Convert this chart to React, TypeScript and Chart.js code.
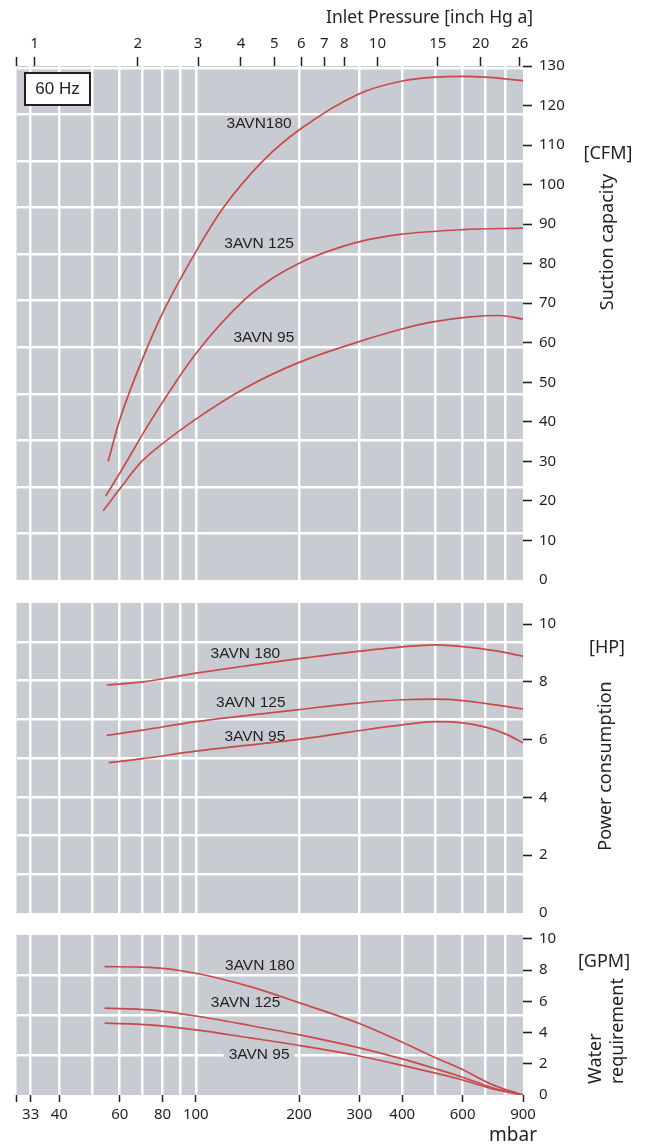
import React, { useEffect, useRef } from "react";
import { Chart, registerables } from "chart.js";

Chart.register(...registerables);

// ---------------- data ----------------
// inlet pressure axes
const mbarTicks = [30, 33, 40, 60, 80, 100, 200, 300, 400, 600, 900];
const mbarGrid = [33, 40, 50, 60, 70, 80, 90, 100, 200, 300, 400, 500, 600, 700, 800];
const inHgTicks = [1, 2, 3, 4, 5, 6, 7, 8, 10, 15, 20, 26];

// suction capacity [CFM]
const cap180Mbar = [55.5, 60, 70, 80, 100, 120, 157, 200, 300, 400, 500, 600, 700, 900];
const cap180Cfm = [30, 40.5, 56, 67.5, 83, 94, 106, 113.8, 123, 126.2, 127.2, 127.4, 127.2, 126.3];
const cap125Mbar = [54.6, 60, 74.2, 100, 140, 170, 201, 246, 301, 394, 600, 900];
const cap125Cfm = [21.2, 27, 40.5, 57.2, 71.2, 76.7, 80.2, 83.3, 85.6, 87.4, 88.6, 89.0];
const cap95Mbar = [53.7, 60, 68.7, 80.3, 99.3, 139, 201, 301, 394, 482, 630, 770, 900];
const cap95Cfm = [17.5, 23, 29.5, 34.6, 40.5, 48.5, 55.1, 60.35, 63.35, 65.15, 66.55, 66.9, 66.0];

// power consumption [HP]
const powMbar = [55, 70, 100, 140, 200, 280, 400, 500, 600, 750, 900];
const pow180Hp = [7.89, 8.0, 8.3, 8.55, 8.8, 9.02, 9.21, 9.28, 9.22, 9.07, 8.89];
const pow125Hp = [6.15, 6.33, 6.62, 6.83, 7.04, 7.24, 7.38, 7.4, 7.35, 7.2, 7.06];
const pow95Mbar = [55.7, 70, 100, 140, 200, 280, 400, 500, 600, 700, 800, 900];
const pow95Hp = [5.2, 5.34, 5.6, 5.8, 6.01, 6.26, 6.51, 6.62, 6.58, 6.43, 6.2, 5.89];

// water requirement [GPM]
const waterMbar = [54.2, 73.4, 100, 144, 201, 300, 400, 500, 600, 725, 900];
const water180Gpm = [8.22, 8.18, 7.8, 6.94, 5.9, 4.58, 3.38, 2.39, 1.64, 0.71, 0];
const water125Gpm = [5.56, 5.45, 5.06, 4.45, 3.85, 3.02, 2.31, 1.68, 1.14, 0.5, 0];
const water95Gpm = [4.6, 4.49, 4.17, 3.66, 3.17, 2.5, 1.9, 1.4, 0.96, 0.42, 0];

// ---------------- styling ----------------
const MBAR_MIN = 30;
const MBAR_MAX = 900;
const MBAR_PER_INHG = 33.8639;
const INK = "#231f20";
const PANEL = "#c8cbd2";
const WHITE = "#ffffff";
const RED = "#c94a4c";
const TICK_FONT = '"Noto Sans", "DejaVu Sans", sans-serif';
const LABEL_FONT = '"Liberation Sans", Arial, sans-serif';
const W = 649;
const PLOT_RIGHT = 523;

type Lbl = { text: string; x: number; y: number; bg?: boolean };
type Panel = {
  yMax: number;
  yStep: number;
  gridMax: number;
  gridStep: number;
  padTop: number;
  padBottom: number;
  series: { x: number[]; y: number[] }[];
  labels: Lbl[];
  top?: boolean;
  bottom?: boolean;
  decorate: (ctx: CanvasRenderingContext2D) => void;
};

function txt(
  ctx: CanvasRenderingContext2D,
  s: string,
  x: number,
  y: number,
  font: string,
  align: CanvasTextAlign = "center",
  rot = 0
) {
  ctx.save();
  ctx.translate(x, y);
  if (rot) ctx.rotate(rot);
  ctx.font = font;
  ctx.fillStyle = INK;
  ctx.textAlign = align;
  ctx.textBaseline = "middle";
  ctx.fillText(s, 0, 0);
  ctx.restore();
}

const LBL_FONT = `15.5px ${LABEL_FONT}`;

const noPad = (s: any) => {
  s.paddingTop = 0;
  s.paddingBottom = 0;
  s.paddingLeft = 0;
  s.paddingRight = 0;
};

function makeConfig(p: Panel): any {
  const scales: any = {
    x: {
      type: "logarithmic",
      position: "bottom",
      min: MBAR_MIN,
      max: MBAR_MAX,
      afterBuildTicks: (s: any) => {
        s.ticks = mbarGrid.map((v) => ({ value: v }));
      },
      ticks: { display: false },
      grid: { color: WHITE, lineWidth: 2.5, drawTicks: false },
      border: { display: false },
      afterFit: (s: any) => {
        s.height = 0;
        noPad(s);
      },
    },
    yGrid: {
      type: "linear",
      position: "left",
      min: 0,
      max: p.gridMax,
      afterBuildTicks: (s: any) => {
        const t: any[] = [];
        for (let v = p.gridStep; v < p.gridMax - 1e-6; v += p.gridStep) t.push({ value: v });
        s.ticks = t;
      },
      ticks: { display: false },
      grid: { color: WHITE, lineWidth: 2.5, drawTicks: false },
      border: { display: false },
      afterFit: (s: any) => {
        s.width = 0;
        noPad(s);
      },
    },
    y: {
      type: "linear",
      position: "right",
      min: 0,
      max: p.yMax,
      ticks: {
        stepSize: p.yStep,
        includeBounds: false,
        color: INK,
        font: { family: TICK_FONT, size: 15 },
        padding: 7,
      },
      grid: {
        drawOnChartArea: false,
        drawTicks: true,
        tickLength: 9,
        tickWidth: 1.6,
        tickColor: (c: any) => (c.tick && c.tick.value === 0 ? "rgba(0,0,0,0)" : INK),
      },
      border: { display: false },
      afterFit: (s: any) => {
        s.width = W - PLOT_RIGHT;
        noPad(s);
      },
    },
  };
  if (p.top) {
    scales.xTop = {
      type: "logarithmic",
      position: "top",
      min: MBAR_MIN / MBAR_PER_INHG,
      max: MBAR_MAX / MBAR_PER_INHG,
      afterBuildTicks: (s: any) => {
        s.ticks = [MBAR_MIN / MBAR_PER_INHG, ...inHgTicks].map((v) => ({ value: v }));
      },
      ticks: {
        autoSkip: false,
        maxRotation: 0,
        padding: 4,
        color: INK,
        font: { family: TICK_FONT, size: 15 },
        callback: (v: any) => (v < 0.95 ? "" : String(v)),
      },
      grid: { drawOnChartArea: false, drawTicks: true, tickLength: 9, tickWidth: 1.5, tickColor: INK },
      border: { display: false },
      afterFit: (s: any) => {
        s.height = 66;
        noPad(s);
      },
    };
  }
  if (p.bottom) {
    scales.xBottom = {
      type: "logarithmic",
      position: "bottom",
      min: MBAR_MIN,
      max: MBAR_MAX,
      afterBuildTicks: (s: any) => {
        s.ticks = mbarTicks.map((v) => ({ value: v }));
      },
      ticks: {
        autoSkip: false,
        maxRotation: 0,
        padding: 4,
        color: INK,
        font: { family: TICK_FONT, size: 15 },
        callback: (v: any) => (v === MBAR_MIN ? "" : String(v)),
      },
      grid: { drawOnChartArea: false, drawTicks: true, tickLength: 7, tickWidth: 1.5, tickColor: INK },
      border: { display: false },
      afterFit: (s: any) => {
        s.height = 49;
        noPad(s);
      },
    };
  }

  const plugin = {
    id: "panelDecor",
    beforeDraw(chart: any) {
      const { ctx, chartArea: a } = chart;
      ctx.save();
      ctx.fillStyle = PANEL;
      ctx.fillRect(a.left, a.top, a.right - a.left, a.bottom - a.top);
      ctx.restore();
    },
    beforeDatasetsDraw(chart: any) {
      const { ctx } = chart;
      for (const l of p.labels) {
        if (!l.bg) continue;
        const px = chart.scales.x.getPixelForValue(l.x);
        const py = chart.scales.y.getPixelForValue(l.y);
        ctx.save();
        ctx.font = LBL_FONT;
        const w = ctx.measureText(l.text).width;
        ctx.fillStyle = PANEL;
        ctx.fillRect(px - w / 2 - 5, py - 8, w + 10, 16);
        ctx.restore();
      }
    },
    afterDraw(chart: any) {
      const { ctx } = chart;
      for (const l of p.labels) {
        const px = chart.scales.x.getPixelForValue(l.x);
        const py = chart.scales.y.getPixelForValue(l.y);
        txt(ctx, l.text, px, py, LBL_FONT);
      }
      p.decorate(ctx);
    },
  };

  return {
    type: "line",
    data: {
      datasets: p.series.map((s) => ({
        data: s.x.map((x, i) => ({ x, y: s.y[i] })),
        borderColor: RED,
        borderWidth: 1.7,
        pointRadius: 0,
        fill: false,
        cubicInterpolationMode: "monotone",
        xAxisID: "x",
        yAxisID: "y",
      })),
    },
    options: {
      responsive: false,
      maintainAspectRatio: false,
      animation: false,
      events: [],
      layout: { padding: { left: 16.5, right: 0, top: p.padTop, bottom: p.padBottom } },
      plugins: { legend: { display: false }, tooltip: { enabled: false }, title: { display: false } },
      scales,
    },
    plugins: [plugin],
  };
}

const capacityPanel: Panel = {
  yMax: 130,
  yStep: 10,
  gridMax: 130 * 1.699, // m³/h
  gridStep: 20,
  padTop: 0,
  padBottom: 10,
  top: true,
  series: [
    { x: cap180Mbar, y: cap180Cfm },
    { x: cap125Mbar, y: cap125Cfm },
    { x: cap95Mbar, y: cap95Cfm },
  ],
  labels: [
    { text: "3AVN180", x: 153, y: 115.3 },
    { text: "3AVN 125", x: 153, y: 85.0 },
    { text: "3AVN 95", x: 158, y: 61.2 },
  ],
  decorate: (ctx) => {
    txt(ctx, "Inlet Pressure [inch Hg a]", 533, 18, `17.5px ${TICK_FONT}`, "right");
    ctx.save();
    ctx.fillStyle = WHITE;
    ctx.fillRect(25, 73, 65, 32);
    ctx.strokeStyle = INK;
    ctx.lineWidth = 2;
    ctx.strokeRect(25, 73, 65, 32);
    ctx.restore();
    txt(ctx, "60 Hz", 57.5, 89.5, `17px ${LABEL_FONT}`);
    txt(ctx, "[CFM]", 608, 154, `18px ${TICK_FONT}`);
    txt(ctx, "Suction capacity", 608, 242, `18px ${TICK_FONT}`, "center", -Math.PI / 2);
  },
};

const powerPanel: Panel = {
  yMax: 8 * 1.341, // top edge = 8 kW
  yStep: 2,
  gridMax: 8, // kW
  gridStep: 1,
  padTop: 13,
  padBottom: 12,
  series: [
    { x: powMbar, y: pow180Hp },
    { x: powMbar, y: pow125Hp },
    { x: pow95Mbar, y: pow95Hp },
  ],
  labels: [
    { text: "3AVN 180", x: 139.5, y: 8.99 },
    { text: "3AVN 125", x: 144.7, y: 7.26 },
    { text: "3AVN 95", x: 148.7, y: 6.1 },
  ],
  decorate: (ctx) => {
    txt(ctx, "[HP]", 607, 58, `18px ${TICK_FONT}`);
    txt(ctx, "Power consumption", 606, 176, `18px ${TICK_FONT}`, "center", -Math.PI / 2);
  },
};

const waterPanel: Panel = {
  yMax: 10.25,
  yStep: 2,
  gridMax: 40, // l/min
  gridStep: 10,
  padTop: 10,
  padBottom: 0,
  bottom: true,
  series: [
    { x: waterMbar, y: water180Gpm },
    { x: waterMbar, y: water125Gpm },
    { x: waterMbar, y: water95Gpm },
  ],
  labels: [
    { text: "3AVN 180", x: 153.7, y: 8.27 },
    { text: "3AVN 125", x: 139.7, y: 5.9 },
    { text: "3AVN 95", x: 153.0, y: 2.56, bg: true },
  ],
  decorate: (ctx) => {
    txt(ctx, "[GPM]", 604, 37, `18px ${TICK_FONT}`);
    txt(ctx, "Water", 596, 159, `18px ${TICK_FONT}`, "left", -Math.PI / 2);
    txt(ctx, "requirement", 618, 159, `18px ${TICK_FONT}`, "left", -Math.PI / 2);
    txt(ctx, "mbar", 513, 211, `19px ${TICK_FONT}`);
  },
};

export default function App() {
  const r1 = useRef<HTMLCanvasElement>(null);
  const r2 = useRef<HTMLCanvasElement>(null);
  const r3 = useRef<HTMLCanvasElement>(null);

  useEffect(() => {
    const charts = [
      new Chart(r1.current as HTMLCanvasElement, makeConfig(capacityPanel)),
      new Chart(r2.current as HTMLCanvasElement, makeConfig(powerPanel)),
      new Chart(r3.current as HTMLCanvasElement, makeConfig(waterPanel)),
    ];
    return () => charts.forEach((c) => c.destroy());
  }, []);

  return (
    <div style={{ position: "absolute", left: 0, top: 0, width: W, height: 1144, background: "#fff" }}>
      <canvas ref={r1} width={W} height={590} style={{ position: "absolute", left: 0, top: 0 }} />
      <canvas ref={r2} width={W} height={335} style={{ position: "absolute", left: 0, top: 590 }} />
      <canvas ref={r3} width={W} height={219} style={{ position: "absolute", left: 0, top: 925 }} />
    </div>
  );
}
